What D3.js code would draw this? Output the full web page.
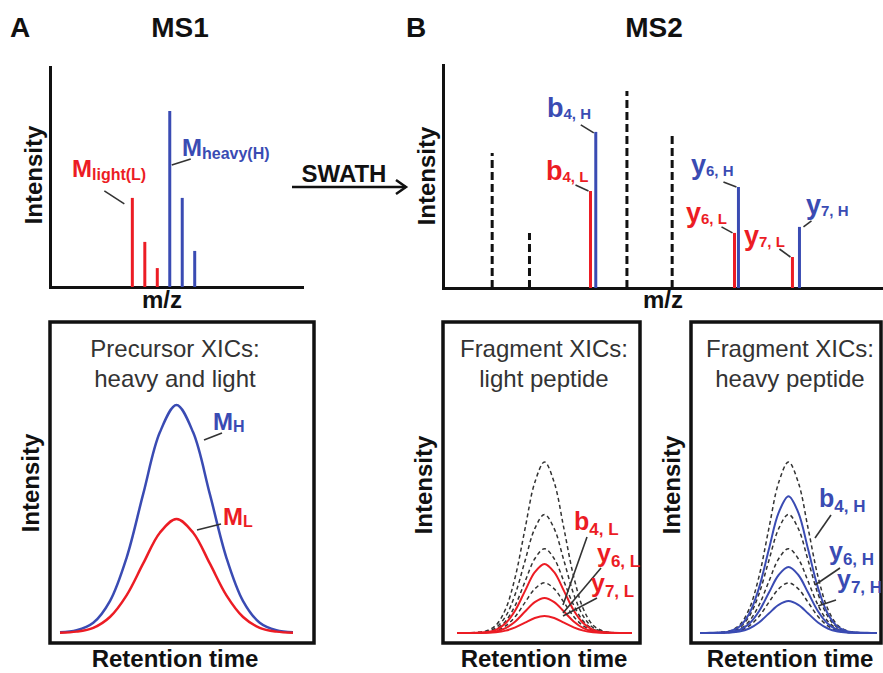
<!DOCTYPE html>
<html>
<head>
<meta charset="utf-8">
<script src="https://cdn.jsdelivr.net/npm/d3@7"></script>
<style>
  body { margin: 0; background: #fff; }
  svg { display: block; font-family: "Liberation Sans", Arial, Helvetica, sans-serif; }
</style>
</head>
<body>
<div id="chart"></div>
<script>
// ---- MS1: precursor isotope envelopes (m/z, relative intensity)
const ms1LightMz = [500.0, 500.5, 501.0];
const ms1LightInt = [40.5, 20.5, 8.6];
const ms1HeavyMz = [501.5, 502.0, 502.5];
const ms1HeavyInt = [80, 40.5, 16.4];

// ---- MS2: fragment sticks inside the SWATH window
const ms2OtherMz = [312, 397, 619, 722];
const ms2OtherInt = [60.5, 24.7, 88.3, 69];
const fragNames = ['b4', 'y6', 'y7'];
const fragLightMz = [536, 864, 996];
const fragLightInt = [43.5, 24.7, 13.9];
const fragHeavyMz = [548, 873, 1012];
const fragHeavyInt = [70, 45.3, 27.4];

// ---- XICs: elution profile (relative to apex)
const rtPoints = [-4.5, -4, -3.5, -3, -2.5, -2, -1.5, -1, -0.5, 0, 0.5, 1, 1.5, 2, 2.5, 3, 3.5, 4, 4.5];
const rtProfile = [0, 0.001, 0.003, 0.012, 0.045, 0.14, 0.33, 0.61, 0.88, 1, 0.88, 0.61, 0.33, 0.14, 0.045, 0.012, 0.003, 0.001, 0];
const precursorHeavyApex = 100;
const precursorLightApex = 50;
const xicOtherApex = [75, 52, 37, 22];
const xicLightApex = [30.3, 15.4, 7.5];
const xicHeavyApex = [60, 28.9, 14];

const RED = '#ec1c24';
const BLUE = '#3a4bb3';
const INK = '#111';

const svg = d3.select('#chart')
  .append('svg')
  .attr('width', 883)
  .attr('height', 673);

// helpers
function boldText(x, y, str, size, anchor) {
  return svg.append('text')
    .attr('x', x).attr('y', y)
    .attr('text-anchor', anchor || 'start')
    .attr('font-weight', 'bold')
    .attr('font-size', size)
    .attr('fill', INK)
    .text(str);
}

function subLabel(x, y, main, sub, color, size, subSize, dy) {
  const t = svg.append('text')
    .attr('x', x).attr('y', y)
    .attr('font-weight', 'bold')
    .attr('font-size', size)
    .attr('fill', color);
  t.append('tspan').text(main);
  t.append('tspan').attr('font-size', subSize).attr('dy', dy).text(sub);
}

function leader(x1, y1, x2, y2) {
  svg.append('line')
    .attr('x1', x1).attr('y1', y1).attr('x2', x2).attr('y2', y2)
    .attr('stroke', '#333')
    .attr('stroke-width', 1.6);
}

function yTitle(x, y) {
  svg.append('text')
    .attr('transform', `translate(${x},${y}) rotate(-90)`)
    .attr('text-anchor', 'middle')
    .attr('font-weight', 'bold')
    .attr('font-size', 24)
    .attr('fill', INK)
    .text('Intensity');
}

function styleAxis(g) {
  g.select('.domain')
    .attr('stroke', INK)
    .attr('stroke-width', 3)
    .attr('stroke-linecap', 'square');
}

// ---- panel headers
boldText(10, 37, 'A', 28);
boldText(180, 37, 'MS1', 28, 'middle');
boldText(406, 37, 'B', 28);
boldText(654, 37, 'MS2', 28, 'middle');

// ================= MS1 spectrum =================
const x1 = d3.scaleLinear().domain([496.7, 506.8]).range([50, 302]);
const y1 = d3.scaleLinear().domain([0, 100]).range([287, 67]);

svg.append('g')
  .attr('transform', `translate(0,${y1(0)})`)
  .call(d3.axisBottom(x1).ticks(0).tickSizeOuter(0))
  .call(styleAxis);
svg.append('g')
  .attr('transform', `translate(${x1.range()[0]},0)`)
  .call(d3.axisLeft(y1).ticks(0).tickSizeOuter(0))
  .call(styleAxis);

function sticks(xs, ys, mz, ints, color, dash) {
  svg.append('g')
    .selectAll('line')
    .data(mz.map((m, i) => ({ mz: m, v: ints[i] })))
    .join('line')
    .attr('x1', d => xs(d.mz)).attr('x2', d => xs(d.mz))
    .attr('y1', ys(0)).attr('y2', d => ys(d.v))
    .attr('stroke', color)
    .attr('stroke-width', 3)
    .attr('stroke-dasharray', dash || null);
}

sticks(x1, y1, ms1LightMz, ms1LightInt, RED);
sticks(x1, y1, ms1HeavyMz, ms1HeavyInt, BLUE);

yTitle(42, 175);
boldText(162, 308, 'm/z', 24, 'middle');

// labels for monoisotopic peaks
{
  const lx = x1(ms1LightMz[0]), ly = y1(ms1LightInt[0]);
  subLabel(72, 177, 'M', 'light(L)', RED, 24, 16, 3);
  leader(lx - 28, ly - 7, lx - 8, ly + 6);
  const hx = x1(ms1HeavyMz[0]);
  subLabel(182, 156, 'M', 'heavy(H)', BLUE, 24, 16, 3);
  leader(hx + 2, 165, hx + 21, 159);
}

// ---- SWATH arrow
svg.append('line')
  .attr('x1', 292).attr('y1', 187).attr('x2', 406).attr('y2', 187)
  .attr('stroke', INK).attr('stroke-width', 2.5);
svg.append('path')
  .attr('d', 'M396,180 L406,187 L396,194')
  .attr('fill', 'none').attr('stroke', INK).attr('stroke-width', 2.5);
boldText(344, 182, 'SWATH', 24, 'middle');

// ================= MS2 spectrum =================
const x2 = d3.scaleLinear().domain([200, 1200]).range([443, 882]);
const y2 = d3.scaleLinear().domain([0, 100]).range([288, 65]);

svg.append('g')
  .attr('transform', `translate(0,${y2(0)})`)
  .call(d3.axisBottom(x2).ticks(0).tickSizeOuter(0))
  .call(styleAxis);
svg.append('g')
  .attr('transform', `translate(${x2.range()[0]},0)`)
  .call(d3.axisLeft(y2).ticks(0).tickSizeOuter(0))
  .call(styleAxis);

sticks(x2, y2, ms2OtherMz, ms2OtherInt, INK, '8,4');
sticks(x2, y2, fragLightMz, fragLightInt, RED);
sticks(x2, y2, fragHeavyMz, fragHeavyInt, BLUE);

yTitle(435, 176);
boldText(663, 308, 'm/z', 24, 'middle');

// fragment annotations: label x, label baseline, leader offsets from stick top
const ms2LightLabels = [
  [546, 180, -15, -6, -2, 0],
  [686, 222, -13, -6, -2, 0],
  [744, 245, -13, -8, -2, 0]
];
const ms2HeavyLabels = [
  [547, 117, -15, -7, -2, 1],
  [691, 174, -15, -5, -2, 0],
  [806, 214, 4, 0, 12, -6]
];
fragNames.forEach((n, i) => {
  const sxL = x2(fragLightMz[i]), syL = y2(fragLightInt[i]);
  const a = ms2LightLabels[i];
  subLabel(a[0], a[1], n[0], n.slice(1) + ', L', RED, 27, 15, 2);
  leader(sxL + a[2], syL + a[3], sxL + a[4], syL + a[5]);
  const sxH = x2(fragHeavyMz[i]), syH = y2(fragHeavyInt[i]);
  const b = ms2HeavyLabels[i];
  subLabel(b[0], b[1], n[0], n.slice(1) + ', H', BLUE, 27, 15, 2);
  leader(sxH + b[2], syH + b[3], sxH + b[4], syH + b[5]);
});

// ================= XIC panels =================
const yX = d3.scaleLinear().domain([0, 100]).range([633, 405]);

function xicPanel(box, tExt, title1, title2, titleX) {
  svg.append('rect')
    .attr('x', box[0]).attr('y', 322)
    .attr('width', box[1] - box[0]).attr('height', 321)
    .attr('fill', 'none').attr('stroke', INK).attr('stroke-width', 3.5);
  [title1, title2].forEach((t, i) => {
    svg.append('text')
      .attr('x', titleX).attr('y', 357 + i * 30)
      .attr('text-anchor', 'middle')
      .attr('font-size', 24)
      .attr('fill', '#333')
      .text(t);
  });
  boldText(titleX, 667, 'Retention time', 24, 'middle');
  const xs = d3.scaleLinear().domain(tExt.dom).range(tExt.range);
  const pts = rtPoints.map((t, i) => [t, rtProfile[i]])
    .filter(p => p[0] >= tExt.dom[0] && p[0] <= tExt.dom[1]);
  const line = d3.line()
    .x(d => xs(d[0]))
    .y(d => yX(d[1]))
    .curve(d3.curveCatmullRom);
  return (apex, color, width, dash) => {
    svg.append('path')
      .attr('d', line(pts.map(p => [p[0], p[1] * apex])))
      .attr('fill', 'none')
      .attr('stroke', color)
      .attr('stroke-width', width)
      .attr('stroke-dasharray', dash || null);
  };
}

// precursor XICs
const drawPre = xicPanel([50, 314], { dom: [-3.5, 3.5], range: [60, 293] },
  'Precursor XICs:', 'heavy and light', 175);
drawPre(precursorHeavyApex, BLUE, 2.5);
drawPre(precursorLightApex, RED, 2.5);
yTitle(39, 483);
subLabel(213, 430, 'M', 'H', BLUE, 24, 16, 2);
leader(204, 440, 222, 433);
subLabel(223, 525, 'M', 'L', RED, 24, 16, 2);
leader(197, 530, 221, 524);

// light fragment XICs
const drawLight = xicPanel([443, 640], { dom: [-4.5, 4.5], range: [457, 632] },
  'Fragment XICs:', 'light peptide', 544);
xicOtherApex.forEach(v => drawLight(v, '#333', 1.5, '4,3'));
xicLightApex.forEach(v => drawLight(v, RED, 2));
yTitle(432, 485);
const lightXicLabels = [[574, 530, 587, 537, 563, 605], [597, 562, 601, 568, 563, 613], [591, 592, 597, 598, 563, 616]];
fragNames.forEach((n, i) => {
  const a = lightXicLabels[i];
  subLabel(a[0], a[1], n[0], n.slice(1) + ', L', RED, 25, 17, 5);
  leader(a[2], a[3], a[4], a[5]);
});

// heavy fragment XICs
const drawHeavy = xicPanel([691, 881], { dom: [-4.5, 4.5], range: [700, 877] },
  'Fragment XICs:', 'heavy peptide', 790);
xicOtherApex.forEach(v => drawHeavy(v, '#333', 1.5, '4,3'));
xicHeavyApex.forEach(v => drawHeavy(v, BLUE, 2));
yTitle(680, 485);
const heavyXicLabels = [[819, 507, 831, 515, 815, 538], [829, 560, 840, 568, 815, 585], [837, 588, 836, 600, 818, 606]];
fragNames.forEach((n, i) => {
  const a = heavyXicLabels[i];
  subLabel(a[0], a[1], n[0], n.slice(1) + ', H', BLUE, 25, 17, 5);
  leader(a[2], a[3], a[4], a[5]);
});
</script>
</body>
</html>
